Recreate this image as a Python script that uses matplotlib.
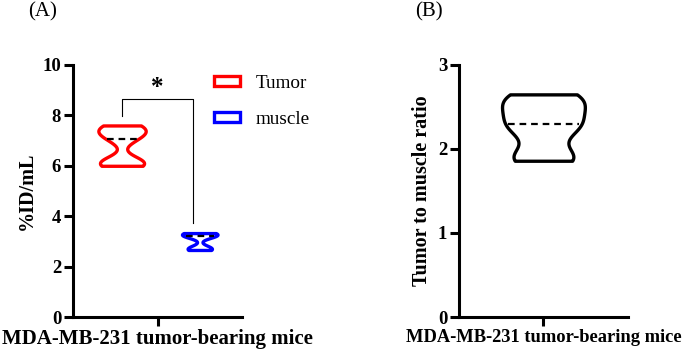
import numpy as np
import matplotlib
matplotlib.use("Agg")
import matplotlib.pyplot as plt
from matplotlib.patches import Rectangle

plt.rcParams['font.family'] = ['Liberation Serif', 'DejaVu Serif']

# ---- data ----
groups = ["Tumor", "muscle"]
tumor_vals = [6.0, 6.1, 6.2, 7.06, 7.3, 7.45, 7.6]
muscle_vals = [2.66, 2.75, 3.2, 3.28, 3.33]
ratio_vals = [1.86, 1.92, 2.22, 2.30, 2.45, 2.58, 2.65]
yticks_a = [0, 2, 4, 6, 8, 10]
yticks_b = [0, 1, 2, 3]
xlabel = "MDA-MB-231 tumor-bearing mice"
ylabel_a = "%ID/mL"
ylabel_b = "Tumor to muscle ratio"
sig_label = "*"

colors = ["#ff0000", "#0000ff"]

fig = plt.figure(figsize=(6.85, 3.55), dpi=100)
axA = fig.add_axes([0.1066, 0.107, 0.2467, 0.710])
axB = fig.add_axes([0.670, 0.107, 0.2467, 0.710])


def style_axis(ax, ylim, yticks, xfs):
    ax.set_xlim(0, 1)
    ax.set_ylim(*ylim)
    ax.set_yticks(yticks)
    ax.set_xticks([0.5])
    ax.set_xticklabels([""])
    for s in ["top", "right"]:
        ax.spines[s].set_visible(False)
    for s in ["left", "bottom"]:
        ax.spines[s].set_linewidth(2.2)
    ax.tick_params(axis="both", width=2.2, length=6.5, direction="out",
                   labelsize=13.5, pad=2)
    for lab in ax.get_yticklabels():
        lab.set_fontweight("bold")
    ax.set_xlabel(xlabel, fontsize=xfs, fontweight="bold", labelpad=0)


def draw_violin(ax, vals, pos, width, color, bw):
    vp = ax.violinplot([vals], positions=[pos], widths=width, showextrema=False,
                       showmedians=False, bw_method=bw)
    body = vp["bodies"][0]
    body.set_facecolor("white")
    body.set_edgecolor(color)
    body.set_linewidth(2.4)
    body.set_alpha(1)
    # median dashed line spanning the body at that height
    verts = body.get_paths()[0].vertices
    med = np.median(vals)
    right = verts[verts[:, 0] >= pos]
    order = np.argsort(right[:, 1])
    hw = np.interp(med, right[order, 1], right[order, 0] - pos)
    ax.plot([pos - hw * 0.92, pos + hw * 0.92], [med, med], color="black",
            linestyle=(0, (3, 2.2)), linewidth=1.6)


style_axis(axA, (0, 10), yticks_a, 15)
axA.set_ylabel(ylabel_a, fontsize=14.5, fontweight="bold", labelpad=4)
draw_violin(axA, tumor_vals, 0.29, 0.28, colors[0], 0.37)
draw_violin(axA, muscle_vals, 0.75, 0.21, colors[1], 0.38)

# significance bracket
xl, xr = 0.29, 0.71
ytop = 8.65
axA.plot([xl, xl, xr, xr], [max(tumor_vals) + 0.38, ytop, ytop, max(muscle_vals) + 0.4],
         color="black", linewidth=0.8)
axA.text((xl + xr) / 2, ytop, sig_label, ha="center", va="bottom",
         fontsize=18, fontweight="bold")

# legend
handles = [Rectangle((0, 0), 1, 1, facecolor="white", edgecolor=c, linewidth=2.4)
           for c in colors]
leg = axA.legend(handles, groups, loc="upper left", bbox_to_anchor=(0.73, 1.03),
                 frameon=False, fontsize=13.8, handlelength=1.35, handleheight=0.45,
                 labelspacing=1.0, handletextpad=0.85)
leg.set_clip_on(False)

style_axis(axB, (0, 3), yticks_b, 13.3)
axB.set_ylabel(ylabel_b, fontsize=14.5, fontweight="bold", labelpad=4)
draw_violin(axB, ratio_vals, 0.5, 0.49, "black", 0.45)

fig.text(28 / 685, 1 - 12 / 355, "(A)", fontsize=15, ha="left", va="center")
fig.text(415 / 685, 1 - 12 / 355, "(B)", fontsize=15, ha="left", va="center")

fig.savefig("out.png", dpi=100)
